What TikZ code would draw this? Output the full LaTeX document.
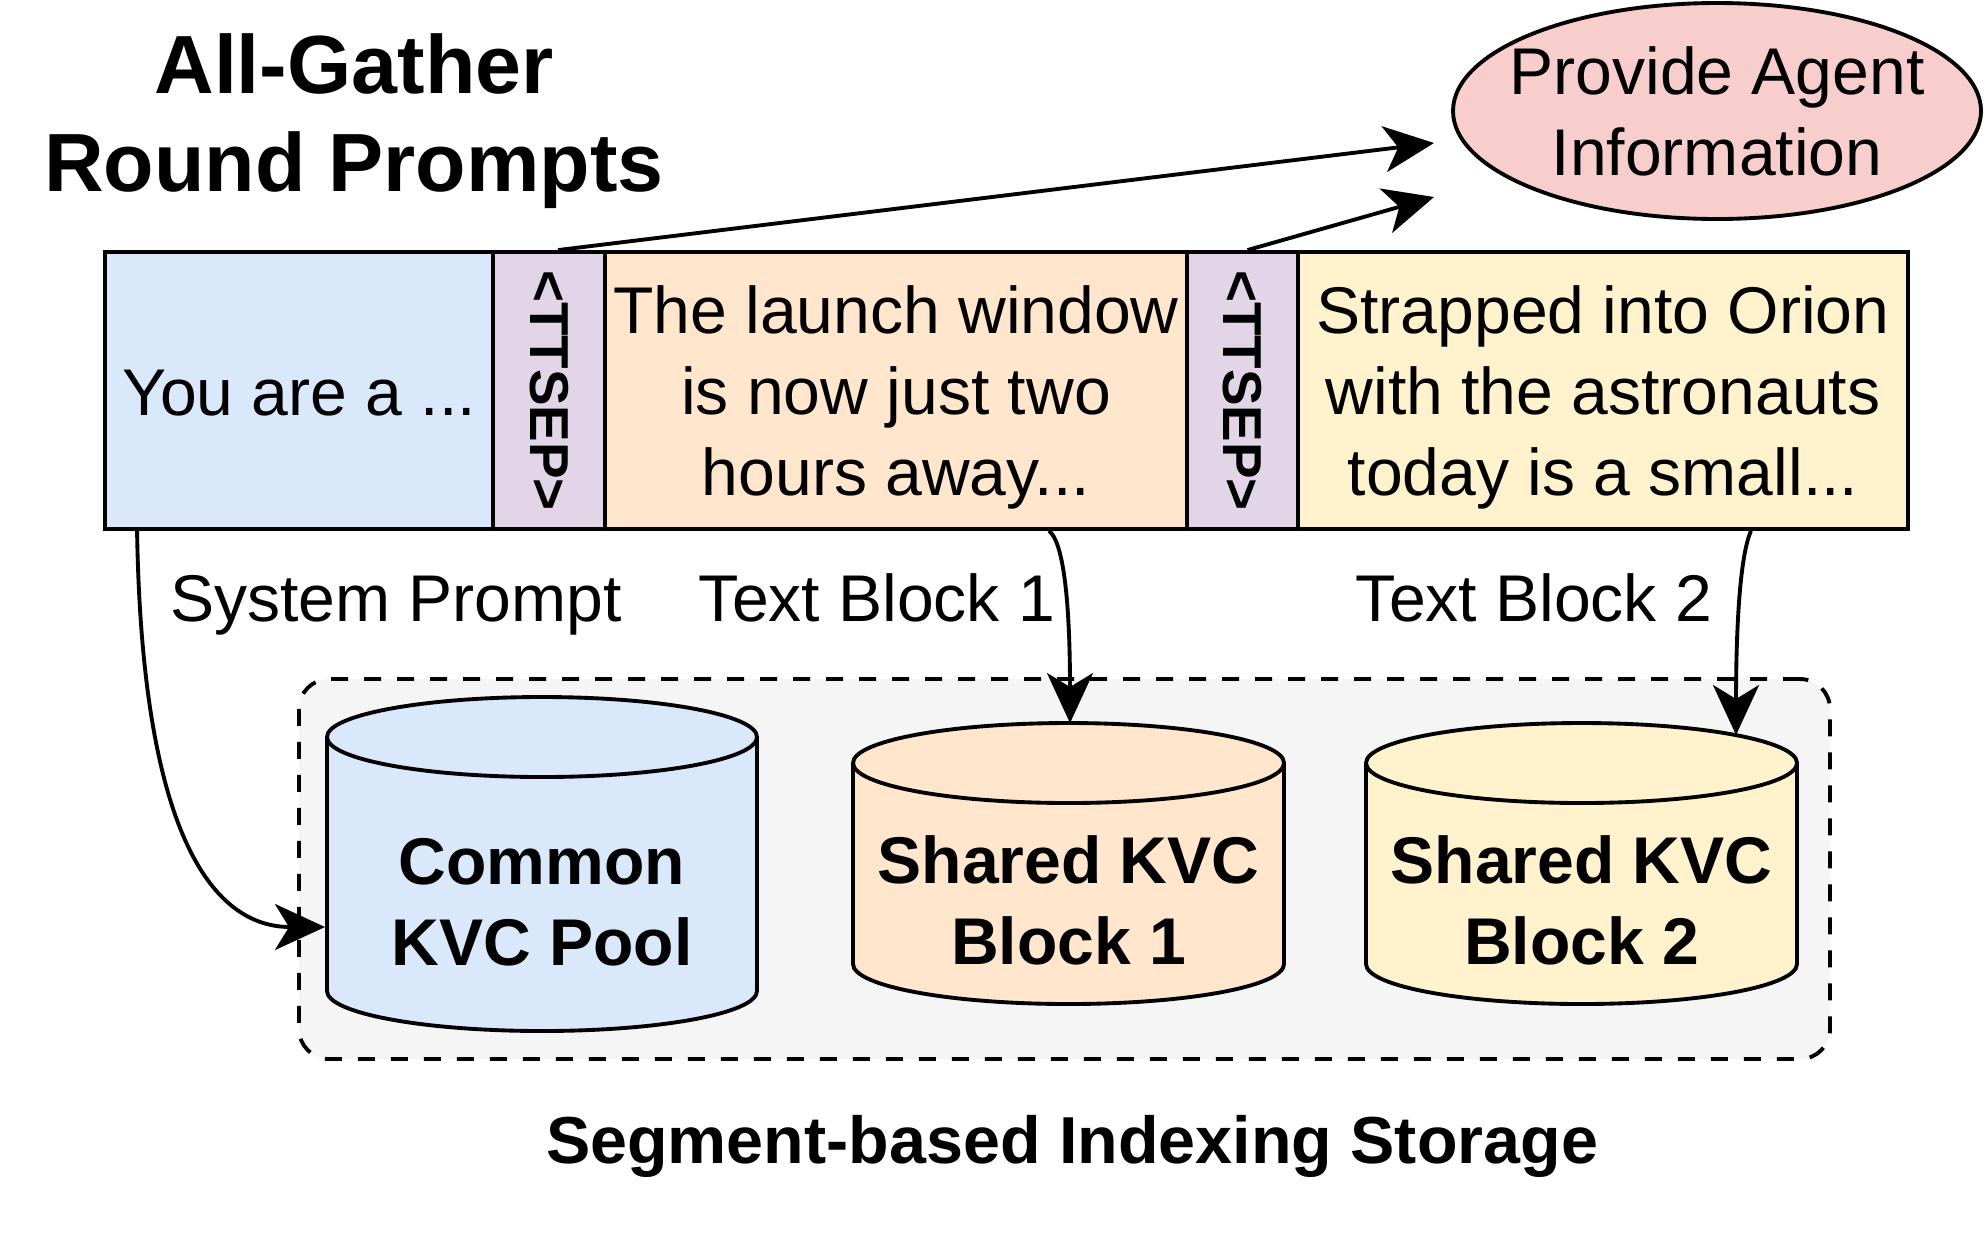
\documentclass[tikz,border=0pt]{standalone}
\usepackage{graphicx}
\usepackage{fontspec}
\setmainfont{Liberation Sans}
\usetikzlibrary{shapes.geometric,arrows.meta,positioning}

\definecolor{sysblue}{HTML}{DAE8FC}
\definecolor{sepviolet}{HTML}{E1D5E7}
\definecolor{blockorange}{HTML}{FFE6CC}
\definecolor{blockyellow}{HTML}{FFF2CC}
\definecolor{agentpink}{HTML}{F8CECC}
\definecolor{storegray}{HTML}{F5F5F5}

\begin{document}
\begin{tikzpicture}[x=0.1mm, y=-0.1mm,
  txt/.style={font=\fontsize{18.8}{23}\selectfont, align=center},
  segbox/.style={draw, line width=1.1pt, minimum height=27.7mm, inner sep=0pt, txt},
  kvclabel/.style={font=\fontsize{18.8}{23}\selectfont\bfseries, align=center},
  kvcline/.style={line width=1.1pt},
  arr/.style={line width=1.1pt, -{Stealth[length=5mm, width=4.6mm, inset=1.4mm]}}]

\useasboundingbox[fill=white] (0,0) rectangle (1988,1234);

\node[font=\fontsize{23.5}{28}\selectfont\bfseries, align=center] (title) at (354,121) {All-Gather\\Round Prompts};
\draw[line width=1.1pt, fill=agentpink] (1717,111) ellipse[x radius=26.4mm, y radius=10.8mm];
\node[txt] (agent) at (1717,111) {Provide Agent\\Information};

% prompt bar
\node[segbox, fill=sysblue, minimum width=38.8mm] (sys) at (299,390.5) {\raisebox{-0.3mm}[\height][\depth]{You are a ...}};
\node[segbox, fill=sepviolet, minimum width=11.2mm] (sep1) at (549,390.5) {\rotatebox{-90}{\fontsize{15.6}{18}\selectfont\bfseries <TTSEP>}};
\node[segbox, fill=blockorange, minimum width=58.2mm] (block1) at (896,390.5) {\raisebox{-0.8mm}[\height][\depth]{\begin{tabular}{@{}c@{}}The launch window\\is now just two\\hours away...\end{tabular}}};
\node[segbox, fill=sepviolet, minimum width=11.1mm] (sep2) at (1242.5,390.5) {\rotatebox{-90}{\fontsize{15.6}{18}\selectfont\bfseries <TTSEP>}};
\node[segbox, fill=blockyellow, minimum width=61mm] (block2) at (1603,390.5) {\raisebox{-0.8mm}[\height][\depth]{\begin{tabular}{@{}c@{}}Strapped into Orion\\with the astronauts\\today is a small...\end{tabular}}};

\node[txt, anchor=base] (syslabel) at (396,621) {System Prompt};
\node[txt, anchor=base] (block1label) at (877,621) {Text Block 1};
\node[txt, anchor=base] (block2label) at (1534,621) {Text Block 2};

% storage
\node[draw, line width=1.1pt, dash pattern=on 1.7mm off 1.6mm, rounded corners=3mm, fill=storegray, minimum width=153.1mm, minimum height=38mm] (storage) at (1064.5,869) {};
\node[font=\fontsize{18.9}{23}\selectfont\bfseries] (storagelabel) at (1072,1146) {Segment-based Indexing Storage};

\draw[kvcline, fill=sysblue] (327,737) -- (327,991) arc[start angle=180, end angle=360, x radius=21.5mm, y radius=4mm] -- (757,737);
\draw[kvcline, fill=sysblue] (542,737) ellipse[x radius=21.5mm, y radius=4mm];
\node[kvclabel] (common) at (542,902) {Common\\KVC Pool};

\draw[kvcline, fill=blockorange] (853,763) -- (853,964) arc[start angle=180, end angle=360, x radius=21.55mm, y radius=4mm] -- (1284,763);
\draw[kvcline, fill=blockorange] (1068.5,763) ellipse[x radius=21.55mm, y radius=4mm];
\node[kvclabel] (shared1) at (1068.5,900) {Shared KVC\\Block 1};

\draw[kvcline, fill=blockyellow] (1366,763) -- (1366,964) arc[start angle=180, end angle=360, x radius=21.55mm, y radius=4mm] -- (1797,763);
\draw[kvcline, fill=blockyellow] (1581.5,763) ellipse[x radius=21.55mm, y radius=4mm];
\node[kvclabel] (shared2) at (1581.5,900) {Shared KVC\\Block 2};

\coordinate (agentin1) at (1434,143);
\coordinate (agentin2) at (1434,197);
\coordinate (commonin) at (325,927);
\coordinate (shared1in) at (1070,723);
\coordinate (shared2in) at (1736,735);

\draw[arr] ([xshift=0.9mm]sep1.north) -- (agentin1);
\draw[arr] ([xshift=0.5mm]sep2.north) -- (agentin2);
\draw[arr] ([xshift=3.4mm]sys.south west) .. controls (142,840) and (215,927) .. (commonin);
\draw[arr] ([xshift=-14mm]block1.south east) .. controls (1068,545) and (1070,640) .. (shared1in);
\draw[arr] ([xshift=-15.9mm]block2.south east) .. controls (1738,560) and (1736,650) .. (shared2in);

\end{tikzpicture}
\end{document}
